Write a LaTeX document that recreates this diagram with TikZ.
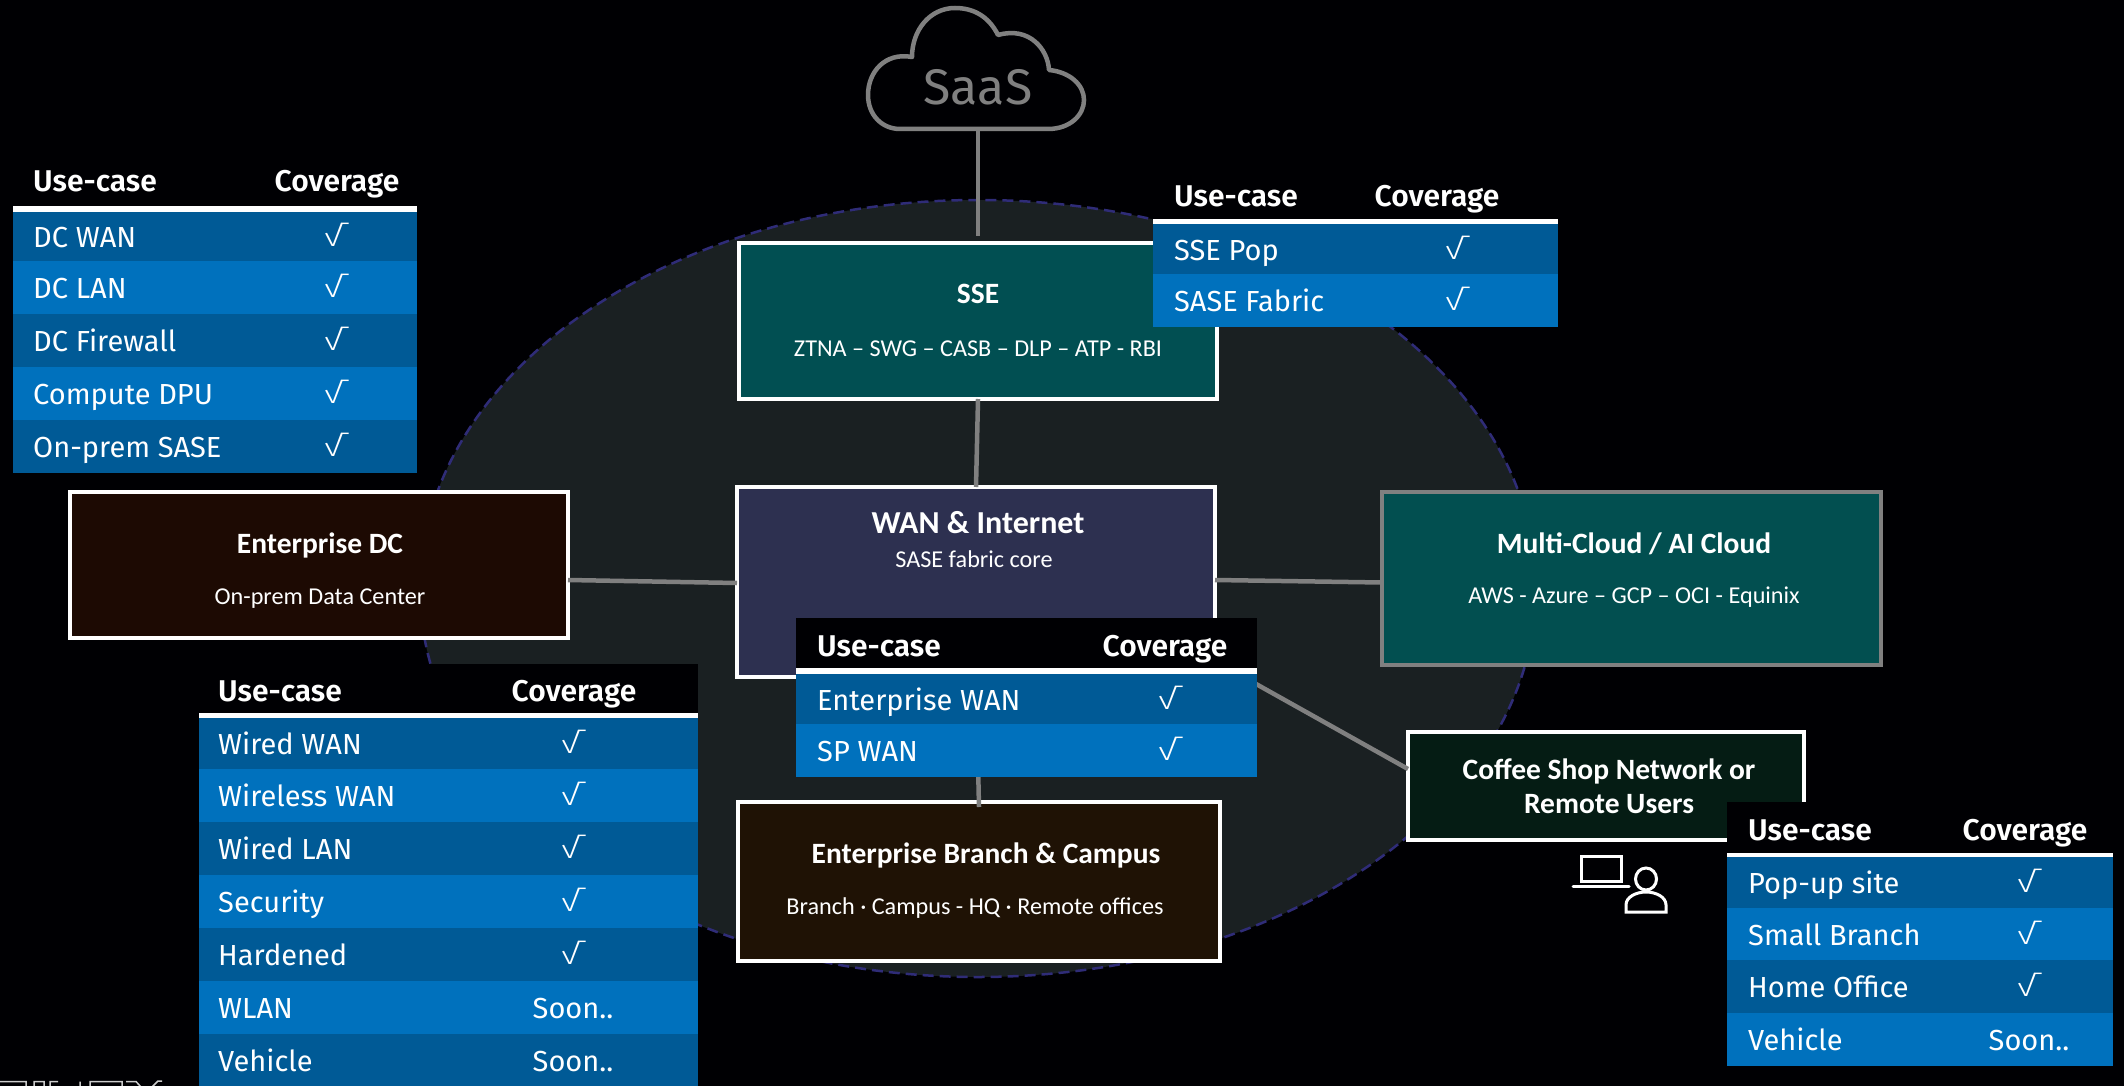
\documentclass[tikz,border=0pt]{standalone}
\usepackage{fontspec}
\usetikzlibrary{calc,shapes.geometric}
\setmainfont{Carlito}
\newfontfamily\plex{Fira Sans}
\newfontfamily\plexb{Fira Sans SemiBold}[BoldFont={Fira Sans SemiBold}]
\newfontfamily\chk{Fira Sans Light}
\definecolor{bgblack}{HTML}{000003}
\definecolor{ellfill}{HTML}{1A2022}
\definecolor{elldash}{HTML}{2F2C78}
\definecolor{rowdark}{HTML}{005A96}
\definecolor{rowlight}{HTML}{0071BD}
\definecolor{linegray}{HTML}{808080}
\definecolor{ssefill}{HTML}{014F52}
\definecolor{wanfill}{HTML}{2D3050}
\definecolor{dcfill}{HTML}{1D0A03}
\definecolor{mcfill}{HTML}{024F50}
\definecolor{cofffill}{HTML}{051C14}
\definecolor{brfill}{HTML}{1F1205}
\tikzset{
  bx/.style={draw=white,line width=4pt,inner sep=0pt,outer sep=0pt},
  ttl/.style={text=white,inner sep=0pt,font=\fontsize{29.5}{34}\selectfont\bfseries,align=center},
  subt/.style={text=white,inner sep=0pt,font=\fontsize{24.2}{28}\selectfont,align=center},
  conn/.style={draw=linegray,line width=4.5pt},
  tb/.style={text=white,inner sep=0pt,anchor=base west,font=\plex\fontsize{29}{32}\selectfont},
  tc/.style={text=white,inner sep=0pt,anchor=base,font=\plex\fontsize{29}{32}\selectfont},
  th/.style={text=white,inner sep=0pt,font=\plexb\fontsize{30}{32}\selectfont},
  ic/.style={draw=white,line width=3pt},
}
\newcommand\ucset[5]{\def\tL{#1}\def\tR{#2}\def\tT{#3}\def\tH{#4}\def\tC{#5}}
\newcommand\ucrow[6]{%name,y1,y2,colour,label,coverage
  \fill[#4] (\tL,#2) rectangle (\tR,#3);
  \path let \n1={(#2+#3)/2+11} in
    node[tb] (#1l) at (\tT,\n1) {#5}
    node[tc] (#1c) at (\tC,\n1) {#6};}
\newcommand\uchead[2]{%name, baseline
  \path node[th,anchor=base west] (#1U) at (\tT,#2) {Use-case}
        node[th,anchor=base] (#1C) at (\tH,#2) {Coverage};}
\newcommand\ck{\hspace*{-5pt}\raisebox{1pt}{\scalebox{1.35}[1]{\chk\fontsize{28}{30}\selectfont √}}}
\begin{document}
\begin{tikzpicture}[x=1pt,y=-1pt]
\useasboundingbox (0,0) rectangle (2124,1086);
\fill[bgblack] (0,0) rectangle (2124,1086);
% central ellipse
\node[ellipse,draw=elldash,fill=ellfill,line width=2.5pt,dash pattern=on 11pt off 6pt,minimum width=1116pt,minimum height=777pt,inner sep=0pt] (core) at (978,588.5) {};
% cloud
\draw[draw=linegray,line width=4.5pt,line join=round] (900,129) -- (1048,129) .. controls (1070,129) and (1084,115) .. (1084,100) .. controls (1084,85) and (1070,72) .. (1049,70) .. controls (1048,50) and (1030,26) .. (998,35) .. controls (988,15) and (972,8) .. (955,8) .. controls (930,8) and (912,30) .. (912,57) .. controls (885,52) and (868,72) .. (868,95) .. controls (868,115) and (882,129) .. (900,129) -- cycle;
\node[text=linegray,inner sep=0pt,font=\plex\fontsize{50}{54}\selectfont] (saas) at (978,87) {SaaS};
\coordinate (cloudb) at (978,131);
% boxes
\node[bx,fill=ssefill,minimum width=478pt,minimum height=156pt] (sse) at (978,321) {};
\node[ttl] (sseT) at (978,294) {SSE};
\node[subt] (sseS) at (978,348.5) {ZTNA – SWG – CASB – DLP – ATP - RBI};
\node[bx,fill=wanfill,minimum width=478pt,minimum height=190pt] (wan) at (976,582) {};
\node[ttl,font=\fontsize{32}{36}\selectfont\bfseries] (wanT) at (978,523) {WAN \& Internet};
\node[subt] (wanS) at (974,559) {SASE fabric core};
\node[bx,fill=dcfill,minimum width=498pt,minimum height=146pt] (dc) at (319,565) {};
\node[ttl] (dcT) at (320,545) {Enterprise DC};
\node[subt] (dcS) at (320,599) {On-prem Data Center};
\node[bx,draw=linegray,fill=mcfill,minimum width=499pt,minimum height=173pt] (mc) at (1631.5,578.5) {};
\node[ttl] (mcT) at (1634,544) {Multi-Cloud / AI Cloud};
\node[subt] (mcS) at (1634,597) {AWS - Azure – GCP – OCI - Equinix};
\node[bx,fill=cofffill,minimum width=396pt,minimum height=108pt] (coff) at (1606,786) {};
\node[ttl] (coffT) at (1609,786) {Coffee Shop Network or\\Remote Users};
\node[bx,fill=brfill,minimum width=482pt,minimum height=159pt] (br) at (979,881.5) {};
\node[ttl] (brT) at (986,855) {Enterprise Branch \& Campus};
\node[subt] (brS) at (975,908) {Branch · Campus - HQ · Remote offices};
% connectors
\draw[conn] (cloudb) -- ([yshift=7pt]sse.north);
\draw[conn] (sse.south) -- (wan.north);
\draw[conn] ([yshift=-15pt]dc.east) -- ([yshift=-1pt]wan.west);
\draw[conn] ([yshift=2pt]wan.east) -- ([yshift=-4pt]mc.west);
\draw[conn] ([yshift=-79pt]wan.east) -- ([yshift=17pt]coff.west);
\draw[conn] (wan.south) -- ([yshift=-5pt]br.north);
% user icon
\draw[ic] (1581,881) -- (1581,856) -- (1621,856) -- (1621,881) -- cycle;
\draw[ic,line cap=round] (1573,886) -- (1629,886);
\draw[ic] (1646,879) ellipse (10.5pt and 11pt);
\draw[ic] (1626,912) -- (1626,905) .. controls (1626,897) and (1636,892) .. (1646,892) .. controls (1656,892) and (1666,897) .. (1666,905) -- (1666,912) -- cycle;
% cropped outline at the bottom-left edge
\draw[draw=white!80!black,line width=1.5pt] (0,1081.5) -- (26,1081.5) -- (26,1087)
  (34,1087) -- (34,1081.5) -- (44,1081.5) -- (44,1087)
  (50,1087) -- (50,1081.5) -- (58,1081.5) (80,1081.5) -- (80,1087)
  (90,1087) -- (90,1081.5) -- (122,1081.5) -- (122,1087)
  (126,1081.5) -- (136,1081.5) -- (141,1087) (152,1087) -- (158,1081) -- (162,1081);
% table A
\ucset{13}{417}{33}{337}{336}
\fill[white] (\tL,206) rectangle (\tR,212);
\uchead{a}{192}
\ucrow{a1}{212}{261}{rowdark}{DC WAN}{\ck}
\ucrow{a2}{261}{314}{rowlight}{DC LAN}{\ck}
\ucrow{a3}{314}{367}{rowdark}{DC Firewall}{\ck}
\ucrow{a4}{367}{420}{rowlight}{Compute DPU}{\ck}
\ucrow{a5}{420}{473}{rowdark}{On-prem SASE}{\ck}
% table B
\ucset{1153}{1558}{1174}{1437}{1457}
\fill[bgblack] (\tL,170) rectangle (\tR,219);
\fill[white] (\tL,219) rectangle (\tR,224);
\uchead{b}{206}
\ucrow{b1}{224}{274}{rowdark}{SSE Pop}{\ck}
\ucrow{b2}{274}{327}{rowlight}{SASE Fabric}{\ck}
% table C
\ucset{796}{1257}{817}{1165}{1170}
\fill[bgblack] (\tL,618) rectangle (\tR,668);
\fill[white] (\tL,668) rectangle (\tR,674);
\uchead{c}{656}
\ucrow{c1}{674}{724}{rowdark}{Enterprise WAN}{\ck}
\ucrow{c2}{724}{777}{rowlight}{SP WAN}{\ck}
% table D
\ucset{199}{698}{218}{574}{573}
\fill[bgblack] (\tL,664) rectangle (\tR,713);
\fill[white] (\tL,713) rectangle (\tR,718);
\uchead{d}{701}
\ucrow{d1}{718}{769}{rowdark}{Wired WAN}{\ck}
\ucrow{d2}{769}{822}{rowlight}{Wireless WAN}{\ck}
\ucrow{d3}{822}{875}{rowdark}{Wired LAN}{\ck}
\ucrow{d4}{875}{928}{rowlight}{Security}{\ck}
\ucrow{d5}{928}{981}{rowdark}{Hardened}{\ck}
\ucrow{d6}{981}{1034}{rowlight}{WLAN}{Soon..}
\ucrow{d7}{1034}{1087}{rowdark}{Vehicle}{Soon..}
% table E
\ucset{1727}{2113}{1748}{2025}{2029}
\fill[bgblack] (\tL,802) rectangle (\tR,853);
\fill[white] (\tL,853) rectangle (\tR,857);
\uchead{e}{840}
\ucrow{e1}{857}{908}{rowdark}{Pop-up site}{\ck}
\ucrow{e2}{908}{960}{rowlight}{Small Branch}{\ck}
\ucrow{e3}{960}{1013}{rowdark}{Home Office}{\ck}
\ucrow{e4}{1013}{1066}{rowlight}{Vehicle}{Soon..}
\end{tikzpicture}
\end{document}
